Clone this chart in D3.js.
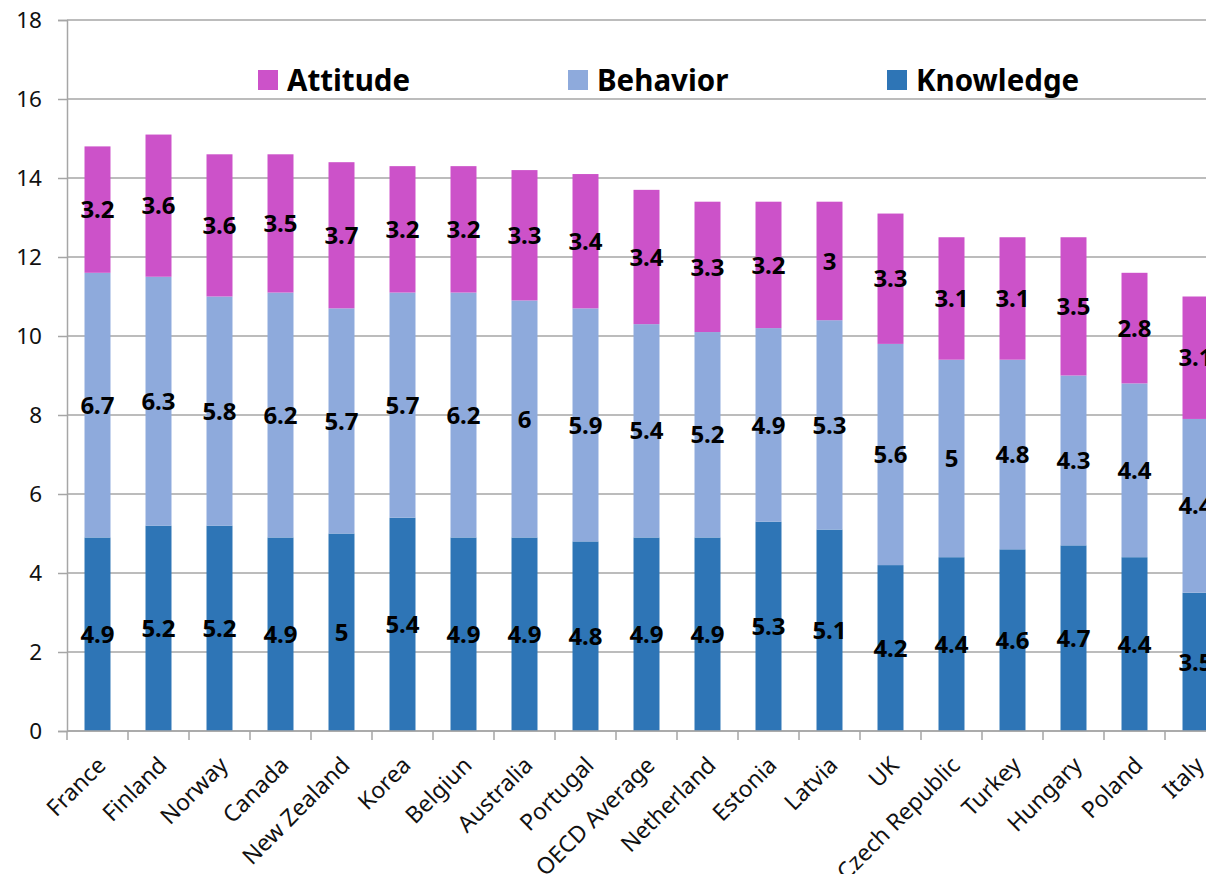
<!DOCTYPE html>
<html>
<head>
<meta charset="utf-8">
<script src="https://cdn.jsdelivr.net/npm/d3@7"></script>
<style>
  html, body { margin: 0; padding: 0; background: #fff; }
  svg { display: block; }
  text { font-family: "Noto Sans", "Open Sans", sans-serif; }
</style>
</head>
<body>
<svg id="chart" width="1206" height="874"></svg>
<script>
const categories = ["France","Finland","Norway","Canada","New Zealand","Korea","Belgiun","Australia","Portugal","OECD Average","Netherland","Estonia","Latvia","UK","Czech Republic","Turkey","Hungary","Poland","Italy"];
const knowledge = [4.9,5.2,5.2,4.9,5,5.4,4.9,4.9,4.8,4.9,4.9,5.3,5.1,4.2,4.4,4.6,4.7,4.4,3.5];
const behavior  = [6.7,6.3,5.8,6.2,5.7,5.7,6.2,6,5.9,5.4,5.2,4.9,5.3,5.6,5,4.8,4.3,4.4,4.4];
const attitude  = [3.2,3.6,3.6,3.5,3.7,3.2,3.2,3.3,3.4,3.4,3.3,3.2,3,3.3,3.1,3.1,3.5,2.8,3.1];
const yTicks = [0,2,4,6,8,10,12,14,16,18];
const seriesNames = ["Knowledge","Behavior","Attitude"];
const legendOrder = ["Attitude","Behavior","Knowledge"];
const colors = {Knowledge:"#2e75b6", Behavior:"#8eaadc", Attitude:"#cc52c9"};

(function(){
const svg = d3.select("#chart");
const W = 1206;
const mLeft = 67, mTop = 20, mBottom = 731;

const rows = categories.map((c,i)=>({cat:c, Knowledge:knowledge[i], Behavior:behavior[i], Attitude:attitude[i]}));
const stacked = d3.stack().keys(seriesNames)(rows);

const x = d3.scaleBand().domain(categories).range([mLeft, mLeft + 61*categories.length]).paddingInner(0.574).paddingOuter(0.287);
const y = d3.scaleLinear().domain([0,18]).range([mBottom, mTop]);

// gridlines
svg.append("g").selectAll("line").data(yTicks).join("line")
  .attr("x1", mLeft).attr("x2", W)
  .attr("y1", d=>y(d)).attr("y2", d=>y(d))
  .attr("stroke", "#a6a6a6").attr("stroke-width", 1.5);

// y axis
const yAxis = svg.append("g").attr("transform", `translate(${mLeft},0)`)
  .call(d3.axisLeft(y).tickValues(yTicks).tickSize(9).tickPadding(16).tickFormat(d3.format("d")));
yAxis.select(".domain").attr("stroke","#a6a6a6").attr("stroke-width",1.5);
yAxis.selectAll(".tick line").attr("stroke","#a6a6a6").attr("stroke-width",1.5);
yAxis.selectAll(".tick text").attr("font-size", 22.5).attr("fill","#111").style("font-family","'Noto Sans', sans-serif");

// bars
const layers = svg.append("g").selectAll("g").data(stacked).join("g")
  .attr("fill", d=>colors[d.key]);
layers.selectAll("rect").data(d=>d).join("rect")
  .attr("x", d=>x(d.data.cat))
  .attr("width", x.bandwidth())
  .attr("y", d=>y(d[1]))
  .attr("height", d=>y(d[0]) - y(d[1]));

// x axis (ticks at category boundaries)
const step = x.step();
const boundaries = d3.range(categories.length + 1).map(i => mLeft + i*step);
const xg = svg.append("g");
xg.append("line").attr("x1", mLeft).attr("x2", W).attr("y1", mBottom).attr("y2", mBottom)
  .attr("stroke","#a6a6a6").attr("stroke-width",1.5);
xg.selectAll("line.tk").data(boundaries).join("line").attr("class","tk")
  .attr("x1", d=>d).attr("x2", d=>d).attr("y1", mBottom).attr("y2", mBottom+9)
  .attr("stroke","#a6a6a6").attr("stroke-width",1.5);
xg.selectAll("text").data(categories).join("text")
  .attr("transform", d=>`translate(${x(d)+x.bandwidth()/2+4},${mBottom+30}) rotate(-45)`)
  .attr("text-anchor","end")
  .attr("dy","0.35em")
  .attr("font-size", 23)
  .attr("fill","#111")
  .text(d=>d);

// value labels
layers.selectAll("text").data(d=>d.map(v=>({v, key:d.key}))).join("text")
  .attr("x", d=>x(d.v.data.cat)+x.bandwidth()/2)
  .attr("y", d=>(y(d.v[0])+y(d.v[1]))/2)
  .attr("dy","0.36em")
  .attr("text-anchor","middle")
  .attr("font-size", 24)
  .attr("font-weight", "bold")
  .attr("fill","#000")
  .text(d=>d.v.data[d.key]);

// legend
const legendX = [258, 568, 887];
const lg = svg.append("g").selectAll("g").data(legendOrder).join("g")
  .attr("transform",(d,i)=>`translate(${legendX[i]},70)`);
lg.append("rect").attr("width",20).attr("height",20).attr("fill",d=>colors[d]);
lg.append("text").attr("x",29).attr("y",10).attr("dy","0.36em")
  .attr("font-size",29.5).attr("font-weight","bold").attr("fill","#000").text(d=>d);
})();
</script>
</body>
</html>
